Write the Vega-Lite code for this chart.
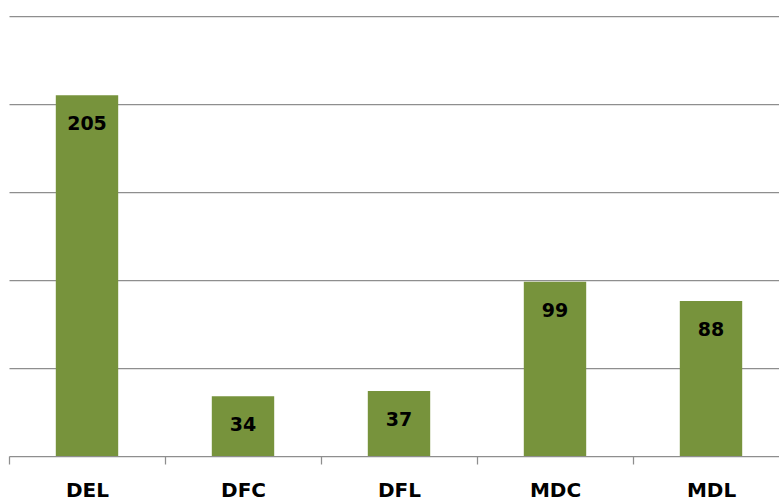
{
  "$schema": "https://vega.github.io/schema/vega-lite/v6.json",
  "autosize": "none",
  "width": 770,
  "height": 440,
  "padding": {"left": 9, "top": 16, "right": 0, "bottom": 44},
  "background": "white",
  "config": {"view": {"stroke": null}},
  "data": {
    "values": [
      {"code": "DEL", "count": 205},
      {"code": "DFC", "count": 34},
      {"code": "DFL", "count": 37},
      {"code": "MDC", "count": 99},
      {"code": "MDL", "count": 88}
    ]
  },
  "encoding": {
    "x": {
      "field": "code",
      "type": "nominal",
      "sort": null,
      "scale": {"range": [0, 780], "paddingInner": 0, "paddingOuter": 0},
      "axis": {
        "title": null,
        "labelAngle": 0,
        "labelFont": "DejaVu Sans",
        "labelFontWeight": "bold",
        "labelFontSize": 20,
        "labelColor": "#000000",
        "labelPadding": 16,
        "domainColor": "#8e8e8e",
        "domainWidth": 1.25,
        "tickColor": "#8e8e8e",
        "tickWidth": 1.25,
        "tickSize": 8,
        "tickBand": "extent",
        "grid": false
      }
    },
    "y": {
      "field": "count",
      "type": "quantitative",
      "scale": {"domain": [0, 250], "nice": false},
      "axis": {
        "title": null,
        "labels": false,
        "ticks": false,
        "domain": false,
        "values": [50, 100, 150, 200, 250],
        "grid": true,
        "gridColor": "#8e8e8e",
        "gridWidth": 1.25
      }
    }
  },
  "layer": [
    {"mark": {"type": "bar", "color": "#77933C", "width": {"band": 0.4}}},
    {
      "mark": {
        "type": "text",
        "font": "DejaVu Sans",
        "fontWeight": "bold",
        "fontSize": 19,
        "color": "#000000",
        "baseline": "middle",
        "dy": 29
      },
      "encoding": {"text": {"field": "count", "type": "quantitative"}}
    }
  ]
}
